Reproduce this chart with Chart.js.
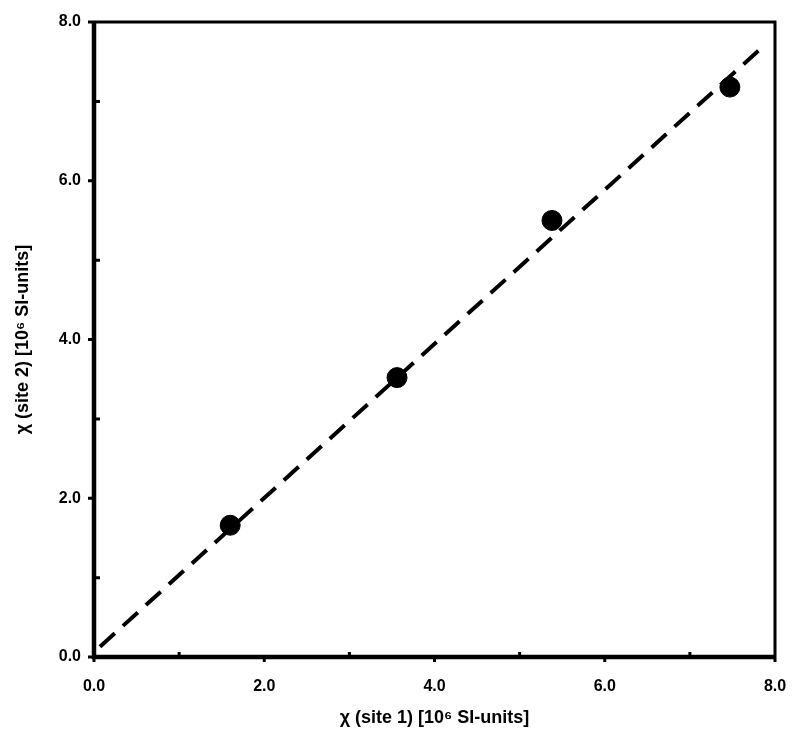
<!DOCTYPE html>
<html>
<head>
<meta charset="utf-8">
<script src="https://cdn.jsdelivr.net/npm/chart.js@4"></script>
<style>
    html, body { margin: 0; padding: 0; background: #fff; }
    #wrap { width: 800px; height: 739px; }
</style>
</head>
<body>
<div id="wrap"><canvas id="scatterPlot" width="800" height="739"></canvas></div>
<script>
// data (10^6 SI-units)
const site1 = [1.60, 3.56, 5.38, 7.47];
const site2 = [1.66, 3.52, 5.50, 7.18];
// dashed regression line, end points
const fitX = [0.07, 7.90];
const fitY = [0.13, 7.73];
const tickValues = [0, 1, 2, 3, 4, 5, 6, 7, 8];

const points = site1.map((x, i) => ({ x: x, y: site2[i] }));
const fitLine = fitX.map((x, i) => ({ x: x, y: fitY[i] }));

// frame + tick marks like the original plot
const frameTicks = {
    id: 'frameTicks',
    afterDraw(chart) {
        const { ctx, chartArea: a, scales } = chart;
        ctx.save();
        ctx.strokeStyle = '#000';
        ctx.lineWidth = 3;
        ctx.beginPath();
        ctx.moveTo(a.left, a.top);
        ctx.lineTo(a.right, a.top);
        ctx.lineTo(a.right, a.bottom);
        ctx.stroke();
        ctx.lineWidth = 4.5;
        ctx.beginPath();
        ctx.moveTo(a.left, a.top - 1);
        ctx.lineTo(a.left, a.bottom);
        ctx.lineTo(a.right + 1, a.bottom);
        ctx.stroke();
        ctx.lineWidth = 3;
        tickValues.forEach(v => {
            const major = v % 2 === 0;
            const px = scales.x.getPixelForValue(v);
            const py = scales.y.getPixelForValue(v);
            ctx.beginPath();
            if (major) {
                ctx.moveTo(px, a.bottom); ctx.lineTo(px, a.bottom + 5);
                ctx.moveTo(a.left, py); ctx.lineTo(a.left - 6, py);
            } else {
                ctx.moveTo(px, a.bottom); ctx.lineTo(px, a.bottom - 5);
                ctx.moveTo(a.left, py); ctx.lineTo(a.left + 6, py);
            }
            ctx.stroke();
        });
        ctx.restore();
    }
};

Chart.defaults.font.family = '"Liberation Sans", Arial, sans-serif';
Chart.defaults.color = '#000';

new Chart(document.getElementById('scatterPlot').getContext('2d'), {
    type: 'scatter',
    data: {
        datasets: [
            {
                label: 'fit',
                data: fitLine,
                showLine: true,
                borderColor: '#000',
                borderWidth: 4,
                borderDash: [20, 11],
                pointRadius: 0,
                fill: false,
            },
            {
                label: 'data',
                data: points,
                backgroundColor: '#000',
                borderColor: '#000',
                pointRadius: 10,
                pointHoverRadius: 10,
            },
        ],
    },
    options: {
        responsive: false,
        animation: false,
        layout: { padding: { top: 22, right: 25, left: 12, bottom: 10 } },
        plugins: {
            legend: { display: false },
            tooltip: { enabled: false },
        },
        scales: {
            x: {
                type: 'linear',
                min: 0,
                max: 8,
                grid: { display: false, drawTicks: false },
                border: { display: false },
                ticks: {
                    stepSize: 2,
                    padding: 20,
                    font: { size: 16, weight: 'bold' },
                    callback: v => v.toFixed(1),
                },
                title: {
                    display: true,
                    text: 'χ (site 1) [10⁶ SI-units]',
                    font: { size: 18, weight: 'bold' },
                    padding: { top: 6, bottom: 0 },
                },
                afterFit: s => { s.height = 72; s.paddingLeft = 0; s.paddingRight = 0; },
            },
            y: {
                type: 'linear',
                min: 0,
                max: 8,
                grid: { display: false, drawTicks: false },
                border: { display: false },
                ticks: {
                    stepSize: 2,
                    padding: 13,
                    font: { size: 16, weight: 'bold' },
                    callback: v => v.toFixed(1),
                },
                title: {
                    display: true,
                    text: 'χ (site 2) [10⁶ SI-units]',
                    font: { size: 18, weight: 'bold' },
                    padding: { top: 0, bottom: 10 },
                },
                afterFit: s => { s.width = 82; s.paddingTop = 0; s.paddingBottom = 0; },
            },
        },
    },
    plugins: [frameTicks],
});
</script>
</body>
</html>
